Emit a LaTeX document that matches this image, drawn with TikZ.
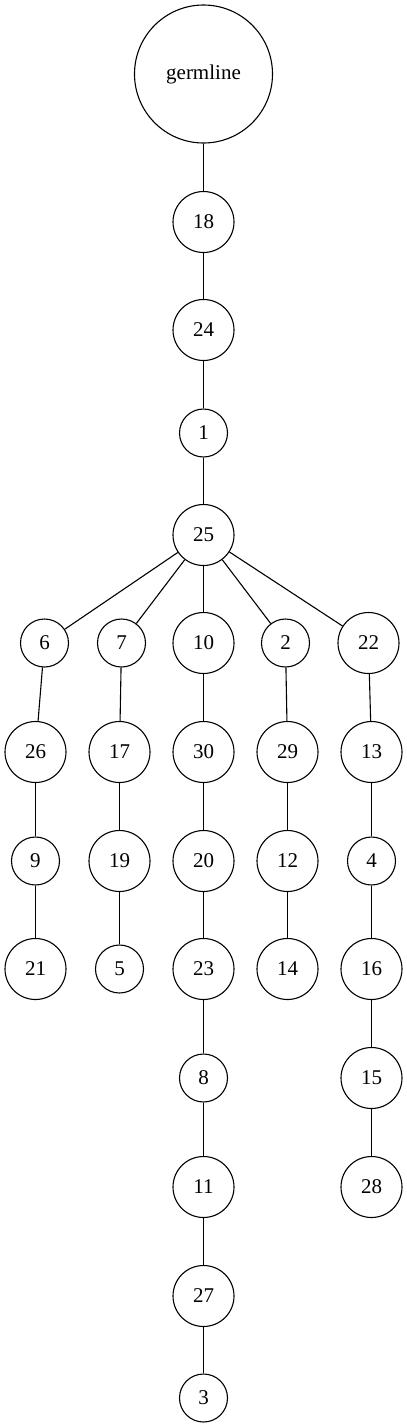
\documentclass[tikz,border=0pt]{standalone}
\usepackage{fontspec}
\setmainfont{Liberation Serif}
\usetikzlibrary{positioning}

\begin{document}
\begin{tikzpicture}[x=1pt, y=-1pt, line width=1.1pt,
  every node/.style={draw, circle, inner sep=0pt, font=\fontsize{21}{24}\selectfont},
  big/.style={minimum size=61pt}, small/.style={minimum size=48pt}]
  \useasboundingbox (0,0) rectangle (407,1428);
  \node[minimum size=138pt] (germ) at (203.5,74) {germline};
  \node[big] (n18) at (203.5,222) {18};
  \node[big] (n24) at (203.5,330) {24};
  \node[small] (n1) at (203.5,433) {1};
  \node[big] (n25) at (203.5,535) {25};
  \node[small] (n6) at (44.5,643) {6};
  \node[small] (n7) at (121.5,643) {7};
  \node[big] (n10) at (203.5,643) {10};
  \node[small] (n2) at (285.5,643) {2};
  \node[big] (n22) at (368.5,643) {22};
  \node[big] (n26) at (35.5,752) {26};
  \node[big] (n17) at (119.5,752) {17};
  \node[big] (n30) at (203.5,752) {30};
  \node[big] (n29) at (287.5,752) {29};
  \node[big] (n13) at (371.5,752) {13};
  \node[small] (n9) at (35.5,861) {9};
  \node[big] (n19) at (119.5,861) {19};
  \node[big] (n20) at (203.5,861) {20};
  \node[big] (n12) at (287.5,861) {12};
  \node[small] (n4) at (371.5,861) {4};
  \node[big] (n21) at (35.5,969) {21};
  \node[small] (n5) at (119.5,969) {5};
  \node[big] (n23) at (203.5,969) {23};
  \node[big] (n14) at (287.5,969) {14};
  \node[big] (n16) at (371.5,969) {16};
  \node[small] (n8) at (203.5,1078) {8};
  \node[big] (n15) at (371.5,1078) {15};
  \node[big] (n11) at (203.5,1187) {11};
  \node[big] (n28) at (371.5,1187) {28};
  \node[big] (n27) at (203.5,1296) {27};
  \node[small] (n3) at (203.5,1398) {3};
  \draw (germ) -- (n18);
  \draw (n18) -- (n24);
  \draw (n24) -- (n1);
  \draw (n1) -- (n25);
  \draw (n25) -- (n6);
  \draw (n25) -- (n7);
  \draw (n25) -- (n10);
  \draw (n25) -- (n2);
  \draw (n25) -- (n22);
  \draw (n6) -- (n26);
  \draw (n26) -- (n9);
  \draw (n9) -- (n21);
  \draw (n7) -- (n17);
  \draw (n17) -- (n19);
  \draw (n19) -- (n5);
  \draw (n10) -- (n30);
  \draw (n30) -- (n20);
  \draw (n20) -- (n23);
  \draw (n23) -- (n8);
  \draw (n8) -- (n11);
  \draw (n11) -- (n27);
  \draw (n27) -- (n3);
  \draw (n2) -- (n29);
  \draw (n29) -- (n12);
  \draw (n12) -- (n14);
  \draw (n22) -- (n13);
  \draw (n13) -- (n4);
  \draw (n4) -- (n16);
  \draw (n16) -- (n15);
  \draw (n15) -- (n28);
\end{tikzpicture}
\end{document}
